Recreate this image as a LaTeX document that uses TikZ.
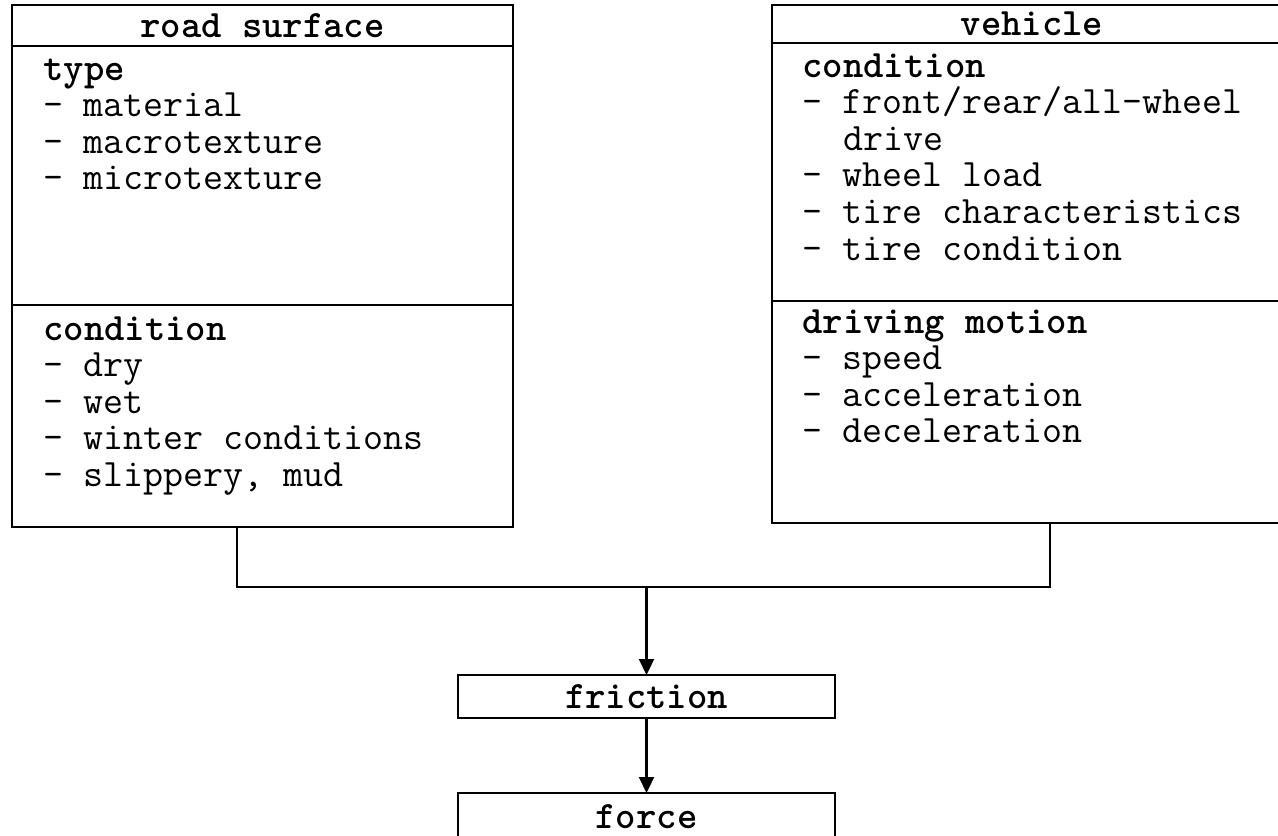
\documentclass[tikz,border=0pt]{standalone}
\usetikzlibrary{arrows.meta,positioning,calc}

\begin{document}
\begin{tikzpicture}[>={Triangle[length=8pt,width=7.5pt]}, font=\fontsize{19.4}{18.3}\selectfont\ttfamily]
    % Estilos para los bloques
    \tikzstyle{head} = [draw, rectangle, line width=1.4pt, outer sep=0pt, inner sep=0pt, font=\fontsize{19.4}{18.3}\selectfont\ttfamily\bfseries]
    \tikzstyle{section} = [draw, rectangle, line width=1.4pt, outer sep=0pt, inner sep=0pt]
    \tikzstyle{items} = [anchor=base west, inner sep=0pt, text width=235pt, align=left, execute at begin node={\spaceskip=0pt\xspaceskip=0pt\relax}]
    \tikzstyle{result} = [draw, rectangle, line width=1.2pt, outer sep=0pt, inner sep=0pt, minimum width=188.5pt, font=\fontsize{19.4}{18.3}\selectfont\ttfamily\bfseries]
    \tikzstyle{line} = [line width=1.1pt]

    \useasboundingbox (0,0) rectangle (639pt,-417.5pt);

    % --- road surface ---
    \node[head, anchor=north west, minimum width=250.5pt, minimum height=20.5pt] (road) at (6pt,-2.5pt) {road surface};
    \node[section, below=0pt of road, minimum width=250.5pt, minimum height=129.5pt] (roadtype) {};
    \node[section, below=0pt of roadtype, minimum width=250.5pt, minimum height=111pt] (roadcond) {};
    \node[items] (roadtypetxt) at ($(roadtype.north west)+(15.5pt,-17pt)$)
        {\textbf{type}\\- material\\- macrotexture\\- microtexture};
    \node[items] (roadcondtxt) at ($(roadcond.north west)+(15.5pt,-17.5pt)$)
        {\textbf{condition}\\- dry\\- wet\\- winter conditions\\- slippery, mud};

    % --- vehicle ---
    \node[head, anchor=north west, minimum width=260pt, minimum height=19pt] (vehicle) at (386pt,-2.5pt) {vehicle};
    \node[section, below=0pt of vehicle, minimum width=260pt, minimum height=129pt] (vehcond) {};
    \node[section, below=0pt of vehcond, minimum width=260pt, minimum height=111pt] (vehmotion) {};
    \node[items] (vehcondtxt) at ($(vehcond.north west)+(15pt,-17pt)$)
        {\textbf{condition}\\- front/rear/all-wheel\\\hspace*{1.05em}drive\\- wheel load\\- tire characteristics\\- tire condition};
    \node[items] (vehmotiontxt) at ($(vehmotion.north west)+(15pt,-16pt)$)
        {\textbf{driving motion}\\- speed\\- acceleration\\- deceleration};

    % --- friction and force ---
    \node[result, anchor=north, minimum height=21.5pt] (friction) at (323.25pt,-337.5pt) {friction};
    \node[result, below=37.5pt of friction, minimum height=24pt, anchor=north] (force) {force};

    % --- Conexiones ---
    \coordinate (roadleg) at ($(roadcond.south west)+(112.5pt,0)$);
    \coordinate (vehleg) at ($(vehmotion.south west)+(139pt,0)$);
    \coordinate (bus) at ($(friction.north)+(0,44pt)$);
    \draw[line] (roadleg) |- (bus) -| (vehleg);
    \draw[line, ->] (bus) -- (friction);
    \draw[line, ->] (friction) -- (force);

\end{tikzpicture}
\end{document}
